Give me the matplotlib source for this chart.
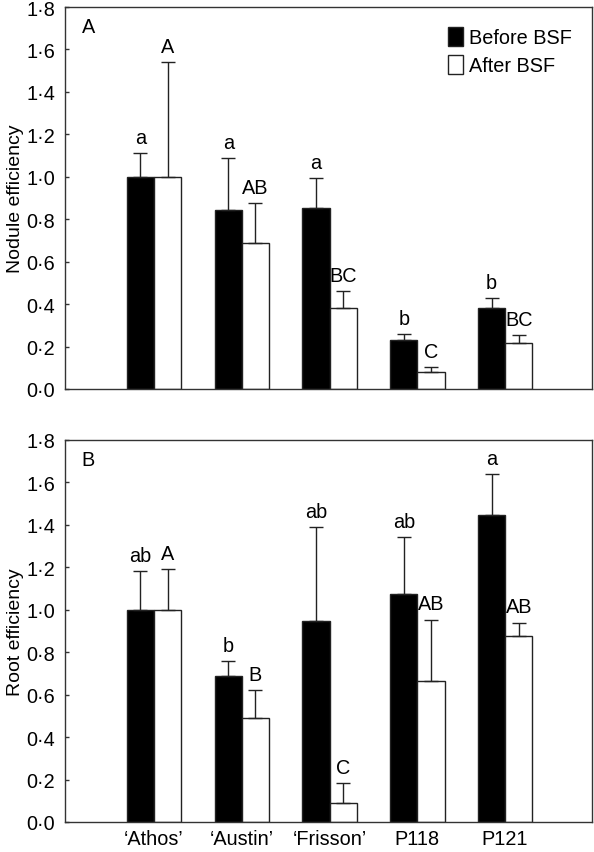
import numpy as np
import matplotlib
matplotlib.use('Agg')
import matplotlib.pyplot as plt

plt.rcParams['font.family'] = ['Liberation Sans', 'DejaVu Sans']

cultivars = ['\u2018Athos\u2019', '\u2018Austin\u2019', '\u2018Frisson\u2019', 'P118', 'P121']

# panel A: nodule efficiency
nod_before = [1.00, 0.844, 0.852, 0.231, 0.382]
nod_before_err = [0.112, 0.243, 0.142, 0.028, 0.047]
nod_after = [1.00, 0.690, 0.382, 0.078, 0.215]
nod_after_err = [0.539, 0.187, 0.080, 0.024, 0.038]
nod_before_lab = ['a', 'a', 'a', 'b', 'b']
nod_after_lab = ['A', 'AB', 'BC', 'C', 'BC']

# panel B: root efficiency
root_before = [1.00, 0.690, 0.946, 1.076, 1.447]
root_before_err = [0.183, 0.067, 0.443, 0.267, 0.193]
root_after = [1.00, 0.490, 0.091, 0.664, 0.875]
root_after_err = [0.192, 0.132, 0.091, 0.289, 0.064]
root_before_lab = ['ab', 'b', 'ab', 'ab', 'a']
root_after_lab = ['A', 'B', 'C', 'AB', 'AB']

yticks = np.arange(0, 1.81, 0.2)
yticklabels = [('%.1f' % t).replace('.', '\u00b7') for t in yticks]

fig = plt.figure(figsize=(5.94, 8.53), dpi=100)
axA = fig.add_axes([65/594, 1 - 390/853, 527/594, 382/853])
axB = fig.add_axes([65/594, 1 - 823/853, 527/594, 382/853])

x = np.arange(len(cultivars))
w = 0.31
edge = '#222222'
fs = 14.3


def panel(ax, before, berr, after, aerr, blab, alab, ylabel, letter):
    ax.bar(x - w/2, before, w, color='black', edgecolor=edge, linewidth=1,
           label='Before BSF')
    ax.bar(x + w/2, after, w, color='white', edgecolor=edge, linewidth=1,
           label='After BSF')
    ax.errorbar(x - w/2, before, yerr=[np.zeros(5), berr], fmt='none',
                ecolor=edge, elinewidth=1, capsize=5, capthick=1)
    ax.errorbar(x + w/2, after, yerr=[np.zeros(5), aerr], fmt='none',
                ecolor=edge, elinewidth=1, capsize=5, capthick=1)
    for i in range(5):
        ax.text(x[i] - w/2, before[i] + berr[i] + 0.03, blab[i], ha='center',
                va='bottom', fontsize=fs)
        ax.text(x[i] + w/2, after[i] + aerr[i] + 0.03, alab[i], ha='center',
                va='bottom', fontsize=fs)
    ax.set_xlim(-1.015, 4.99)
    ax.set_ylim(0, 1.8)
    ax.set_yticks(yticks)
    ax.set_yticklabels(yticklabels)
    ax.tick_params(axis='y', direction='in', length=3, width=1,
                   color='#333333', labelsize=fs, pad=7)
    ax.set_ylabel(ylabel, fontsize=14)
    ax.yaxis.set_label_coords(-0.078, 0.5)
    for s in ax.spines.values():
        s.set_color('#333333')
        s.set_linewidth(1)
    ax.text(0.032, 0.975, letter, transform=ax.transAxes, fontsize=fs,
            ha='left', va='top')


panel(axA, nod_before, nod_before_err, nod_after, nod_after_err,
      nod_before_lab, nod_after_lab, 'Nodule efficiency', 'A')
axA.set_xticks([])
axA.legend(loc='upper right', frameon=False, fontsize=fs, handlelength=0.75,
           handleheight=1.1, handletextpad=0.3, labelspacing=0.4,
           bbox_to_anchor=(0.995, 0.995))

panel(axB, root_before, root_before_err, root_after, root_after_err,
      root_before_lab, root_after_lab, 'Root efficiency', 'B')
axB.set_xticks(x)
axB.set_xticklabels(cultivars)
axB.tick_params(axis='x', length=0, labelsize=fs, pad=5)

fig.savefig('out.png', dpi=100)
